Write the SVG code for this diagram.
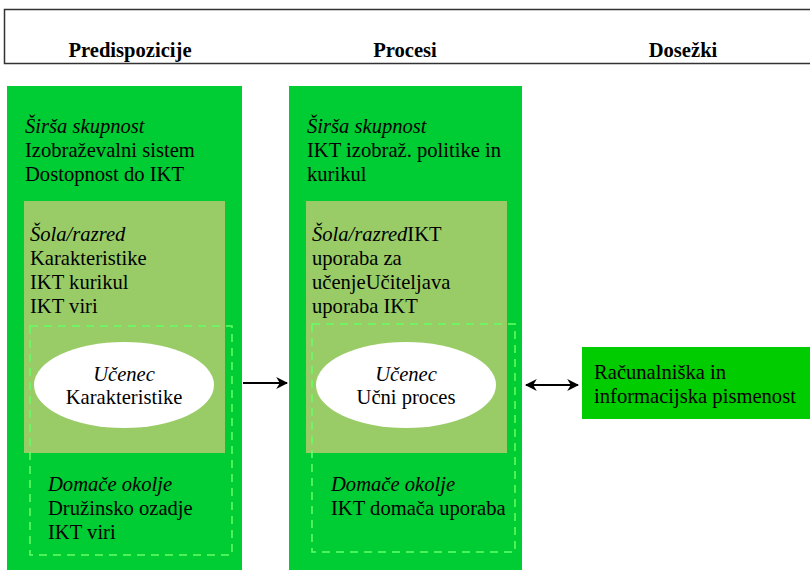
<svg xmlns="http://www.w3.org/2000/svg" width="810" height="570" viewBox="0 0 810 570">
<defs>
<style>
.t{font-family:"Liberation Serif","Times New Roman",serif;font-size:20.6px;fill:#000}
.i{font-style:italic}
.h{font-family:"Liberation Serif","Times New Roman",serif;font-size:20.6px;font-weight:bold;fill:#000}
.col{fill:#00cc33}
.inner{fill:#99cc66}
.dash{fill:none;stroke:#66ff66;stroke-width:1.5;stroke-dasharray:8 6}
.ell{fill:#fff}
.con{stroke:#000;stroke-width:2;fill:none}
</style>
<marker id="ah" viewBox="0 0 10 10" refX="9" refY="5" markerWidth="6" markerHeight="6" orient="auto-start-reverse">
<path d="M0,0 L10,5 L0,10 L3,5 z" fill="#000"/>
</marker>
</defs>
<rect width="810" height="570" fill="#fff"/>
<g id="header">
<rect x="4.5" y="9.5" width="820" height="54" fill="none" stroke="#333" stroke-width="1.5"/>
<text class="h" x="130" y="57" text-anchor="middle">Predispozicije</text>
<text class="h" x="405" y="57" text-anchor="middle">Procesi</text>
<text class="h" x="683" y="57" text-anchor="middle">Dosežki</text>
</g>
<g id="predispozicije">
<rect class="col" x="7" y="86" width="235" height="490"/>
<text class="t" x="25" y="133"><tspan class="i">Širša skupnost</tspan><tspan x="25" dy="24">Izobraževalni sistem</tspan><tspan x="25" dy="24">Dostopnost do IKT</tspan></text>
<rect class="inner" x="24" y="201" width="201" height="252"/>
<text class="t" x="30" y="241"><tspan class="i">Šola/razred</tspan><tspan x="30" dy="24">Karakteristike</tspan><tspan x="30" dy="24">IKT kurikul</tspan><tspan x="30" dy="24">IKT viri</tspan></text>
<rect class="dash" x="30" y="326" width="202" height="229"/>
<ellipse class="ell" cx="124" cy="385" rx="90" ry="43"/>
<text class="t" x="124" y="381" text-anchor="middle"><tspan class="i">Učenec</tspan><tspan x="124" dy="23">Karakteristike</tspan></text>
<text class="t" x="48" y="491"><tspan class="i">Domače okolje</tspan><tspan x="48" dy="24">Družinsko ozadje</tspan><tspan x="48" dy="24">IKT viri</tspan></text>
</g>
<g id="procesi">
<rect class="col" x="289" y="86" width="233" height="490"/>
<text class="t" x="307" y="133"><tspan class="i">Širša skupnost</tspan><tspan x="307" dy="24">IKT izobraž. politike in</tspan><tspan x="307" dy="24">kurikul</tspan></text>
<rect class="inner" x="306" y="201" width="201" height="252"/>
<text class="t" x="312" y="241"><tspan class="i">Šola/razred</tspan><tspan>IKT</tspan><tspan x="312" dy="24">uporaba za</tspan><tspan x="312" dy="24">učenjeUčiteljava</tspan><tspan x="312" dy="24">uporaba IKT</tspan></text>
<rect class="dash" x="312" y="324" width="203" height="228"/>
<ellipse class="ell" cx="406" cy="385" rx="90" ry="43"/>
<text class="t" x="406" y="381" text-anchor="middle"><tspan class="i">Učenec</tspan><tspan x="406" dy="23">Učni proces</tspan></text>
<text class="t" x="331" y="491"><tspan class="i">Domače okolje</tspan><tspan x="331" dy="24">IKT domača uporaba</tspan></text>
</g>
<g id="dosezki">
<rect x="582" y="347" width="230" height="72" fill="#00cc00"/>
<text class="t" x="594" y="379">Računalniška in<tspan x="594" dy="24">informacijska pismenost</tspan></text>
</g>
<g id="connectors">
<line class="con" x1="243" y1="383" x2="287" y2="383" marker-end="url(#ah)"/>
<line class="con" x1="526" y1="385" x2="578" y2="385" marker-start="url(#ah)" marker-end="url(#ah)"/>
</g>
</svg>
